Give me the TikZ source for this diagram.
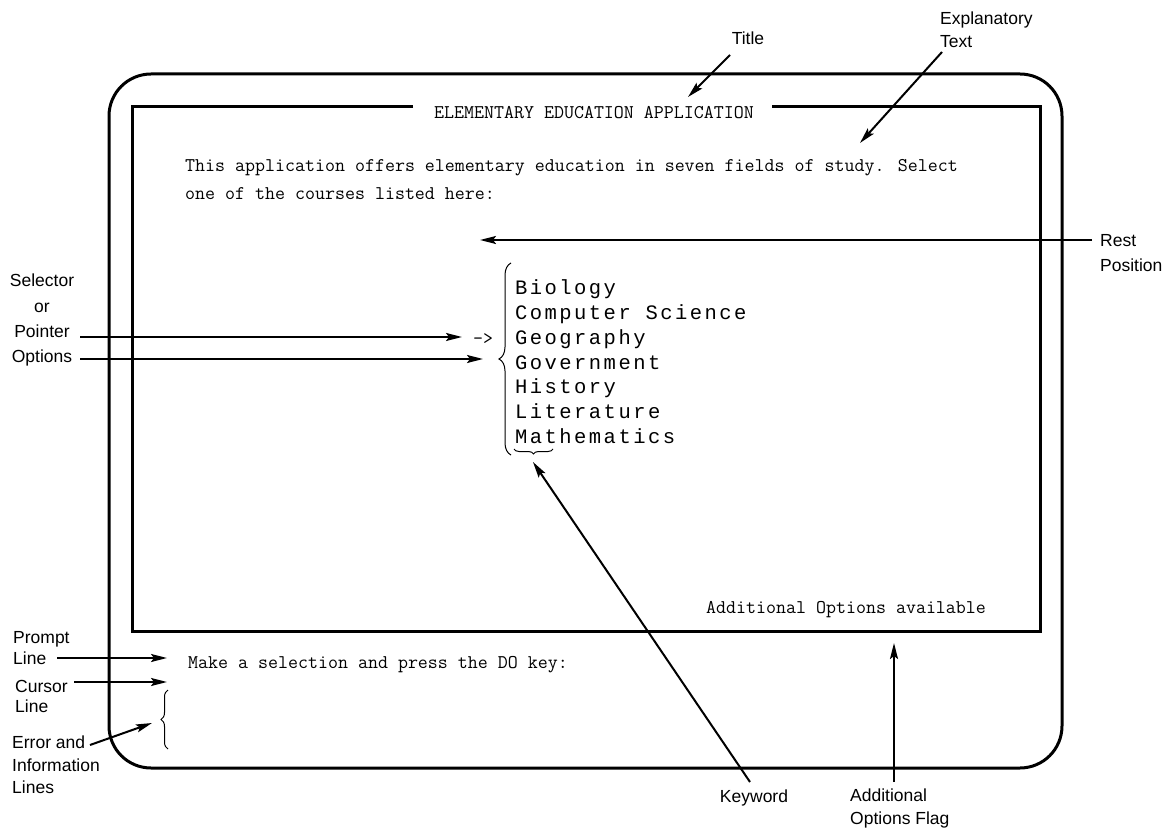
\documentclass[tikz,border=0pt]{standalone}
\usepackage{fontspec}
\setmainfont{Liberation Sans}
\newfontfamily\dotmatrix[LetterSpace=12]{Liberation Mono}
\usetikzlibrary{arrows.meta,calc,decorations.pathreplacing}

\tikzset{
    callout/.style={font=\fontsize{17.5}{#1}\selectfont,inner sep=0pt},
    callout/.default=24,
    crt/.style={font=\ttfamily\fontsize{19.4}{28}\selectfont,inner sep=0pt},
    menuline/.style={font=\dotmatrix\fontsize{20.5}{25}\selectfont,inner sep=0pt,anchor=base west},
    lead/.style={line width=2pt,-{Stealth[length=16pt,width=8pt,inset=3pt]}},
    bezel/.style={line width=3pt},
    curly/.style={decorate,decoration={brace,amplitude=#1},line width=1pt},
}

\begin{document}
\begin{tikzpicture}[x=1pt,y=-1pt]
    \useasboundingbox (0,0) rectangle (1171,829);
    % tails (T) and heads (H) of the leaders, screen corners
    \foreach \n/\px/\py in {
        scrTL/132/107, scrBR/1040/631, gapL/413/107, gapR/772/107,
        titleT/730/55, titleH/688/97,
        explT/942/52, explH/860/143,
        restT/1092/240, restH/480/240,
        selT/80/337, selH/462/337,
        optT/80/359, optH/483/359,
        kwT/750/782, kwH/533/462,
        flagT/894/782, flagH/894/643,
        promptT/57/658, promptH/167/658,
        cursorT/74/682, cursorH/167/682,
        errT/90/745, errH/152/723}
        \coordinate (\n) at (\px,\py);

    % terminal case and screen window
    \draw[bezel,rounded corners=42pt] (109,74) rectangle (1062,768);
    \draw[bezel] (gapL) -- (scrTL) -- (scrTL |- scrBR) -- (scrBR) -- (scrBR |- scrTL) -- (gapR);

    % screen contents
    \node[crt] (title) at (594,113) {ELEMENTARY EDUCATION APPLICATION};
    \node[crt,anchor=base west] (intro1) at (185,172)
        {This application offers elementary education in seven fields of study. Select};
    \node[crt,anchor=base west] (intro2) at (185,200) {one of the courses listed here:};
    \foreach \c [count=\i from 0] in {Biology,Computer Science,Geography,Government,History,Literature,Mathematics}
        \node[menuline] (course\i) at (515,295+24.67*\i) {\c};
    \node[crt,anchor=west] (arrowmark) at (473,339) {->};
    \node[crt,anchor=base west] (moreopts) at (706,613) {Additional Options available};
    \node[crt,anchor=base west] (prompt) at (188,668) {Make a selection and press the DO key:};

    \draw[curly=12pt] (511,455) -- (511,263);
    \draw[curly=5pt] (553,449) -- (514,449);
    \draw[curly=7pt] (168,749) -- (168,690);

    % callouts
    \node[callout] (titlelbl) at (748,38) {Title};
    \node[callout=23,anchor=north west,align=left] (expllbl) at (940,12) {Explanatory\\Text};
    \node[callout=25,anchor=north west,align=left] (restlbl) at (1100,234) {Rest\\Position};
    \node[callout=25.5,anchor=north,align=center] (sellbl) at (42,274) {Selector\\or\\Pointer};
    \node[callout] (optlbl) at (42,358) {Options};
    \node[callout=21,anchor=north west,align=left] (promptlbl) at (13,631) {Prompt\\Line};
    \node[callout=20,anchor=north west,align=left] (cursorlbl) at (15,680) {Cursor\\Line};
    \node[callout=22.5,anchor=north west,align=left] (errlbl) at (12,736) {Error and\\Information\\Lines};
    \node[callout] (kwlbl) at (754,798) {Keyword};
    \node[callout=23,anchor=north west,align=left] (flaglbl) at (850,789) {Additional\\Options Flag};

    \foreach \a in {title,expl,rest,sel,opt,kw,flag,prompt,cursor,err}
        \draw[lead] (\a T) -- (\a H);
\end{tikzpicture}
\end{document}
